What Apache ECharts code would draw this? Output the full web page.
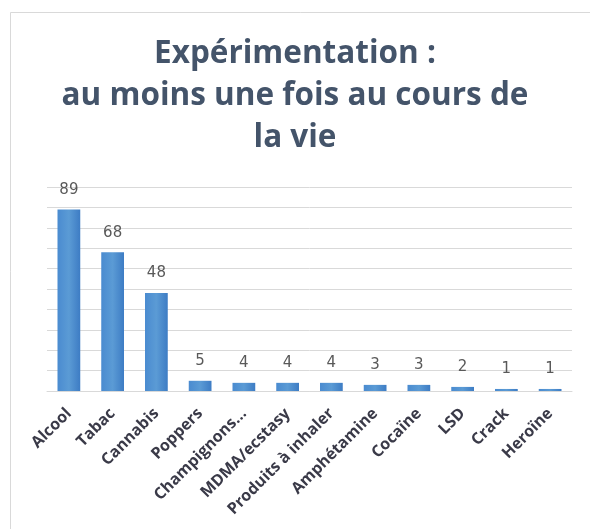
<!DOCTYPE html>
<html><head><meta charset="utf-8">
<script src="https://cdn.jsdelivr.net/npm/echarts@6/dist/echarts.min.js"></script>
<style>html,body{margin:0;padding:0;background:#fff}#c{width:590px;height:529px}</style>
</head><body><div id="c"></div>
<script>
const categories = ["Alcool","Tabac","Cannabis","Poppers","Champignons...","MDMA/ecstasy","Produits à inhaler","Amphétamine","Cocaïne","LSD","Crack","Heroïne"];
const values = [89,68,48,5,4,4,4,3,3,2,1,1];
const titleLines = ["Expérimentation :","au moins une fois au cours de","la vie"];

const titleStyle = {fontFamily:'Open Sans',fontWeight:'bold',fontSize:31.5,color:'#44546a',lineHeight:42};
const chart = echarts.init(document.getElementById('c'), null, {renderer:'canvas'});
chart.setOption({
  animation:false,
  backgroundColor:'#fff',
  graphic:[{type:'rect',shape:{x:10.5,y:12.5,width:600,height:600},style:{fill:'none',stroke:'#d9d9d9',lineWidth:1},silent:true}],
  title: titleLines.map((t,i)=>({text:t,left:'center',top:33+42*i,padding:[0,0,0,16],textStyle:titleStyle})),
  grid:{left:47,right:18,top:187,height:204,containLabel:false},
  xAxis:{
    type:'category', data:categories,
    axisLine:{lineStyle:{color:'#d9d9d9'}},
    axisTick:{show:false},
    axisLabel:{interval:0,rotate:45,margin:20,fontFamily:'Open Sans',fontWeight:'bold',fontSize:16,color:'#3a3a48'}
  },
  yAxis:{
    type:'value', min:0, max:100, interval:10,
    axisLabel:{show:false}, axisLine:{show:false}, axisTick:{show:false},
    splitLine:{lineStyle:{color:'#d9d9d9'}}
  },
  series:[{
    type:'bar', data:values, barWidth:'52%',
    itemStyle:{color:new echarts.graphic.LinearGradient(0,0,1,0,[{offset:0,color:'#4a8bd0'},{offset:0.5,color:'#5b9bd5'},{offset:1,color:'#3d7cc4'}])},
    label:{show:true,position:'top',distance:12,fontFamily:'DejaVu Sans',fontSize:15,color:'#595959'}
  }]
});
</script></body></html>
